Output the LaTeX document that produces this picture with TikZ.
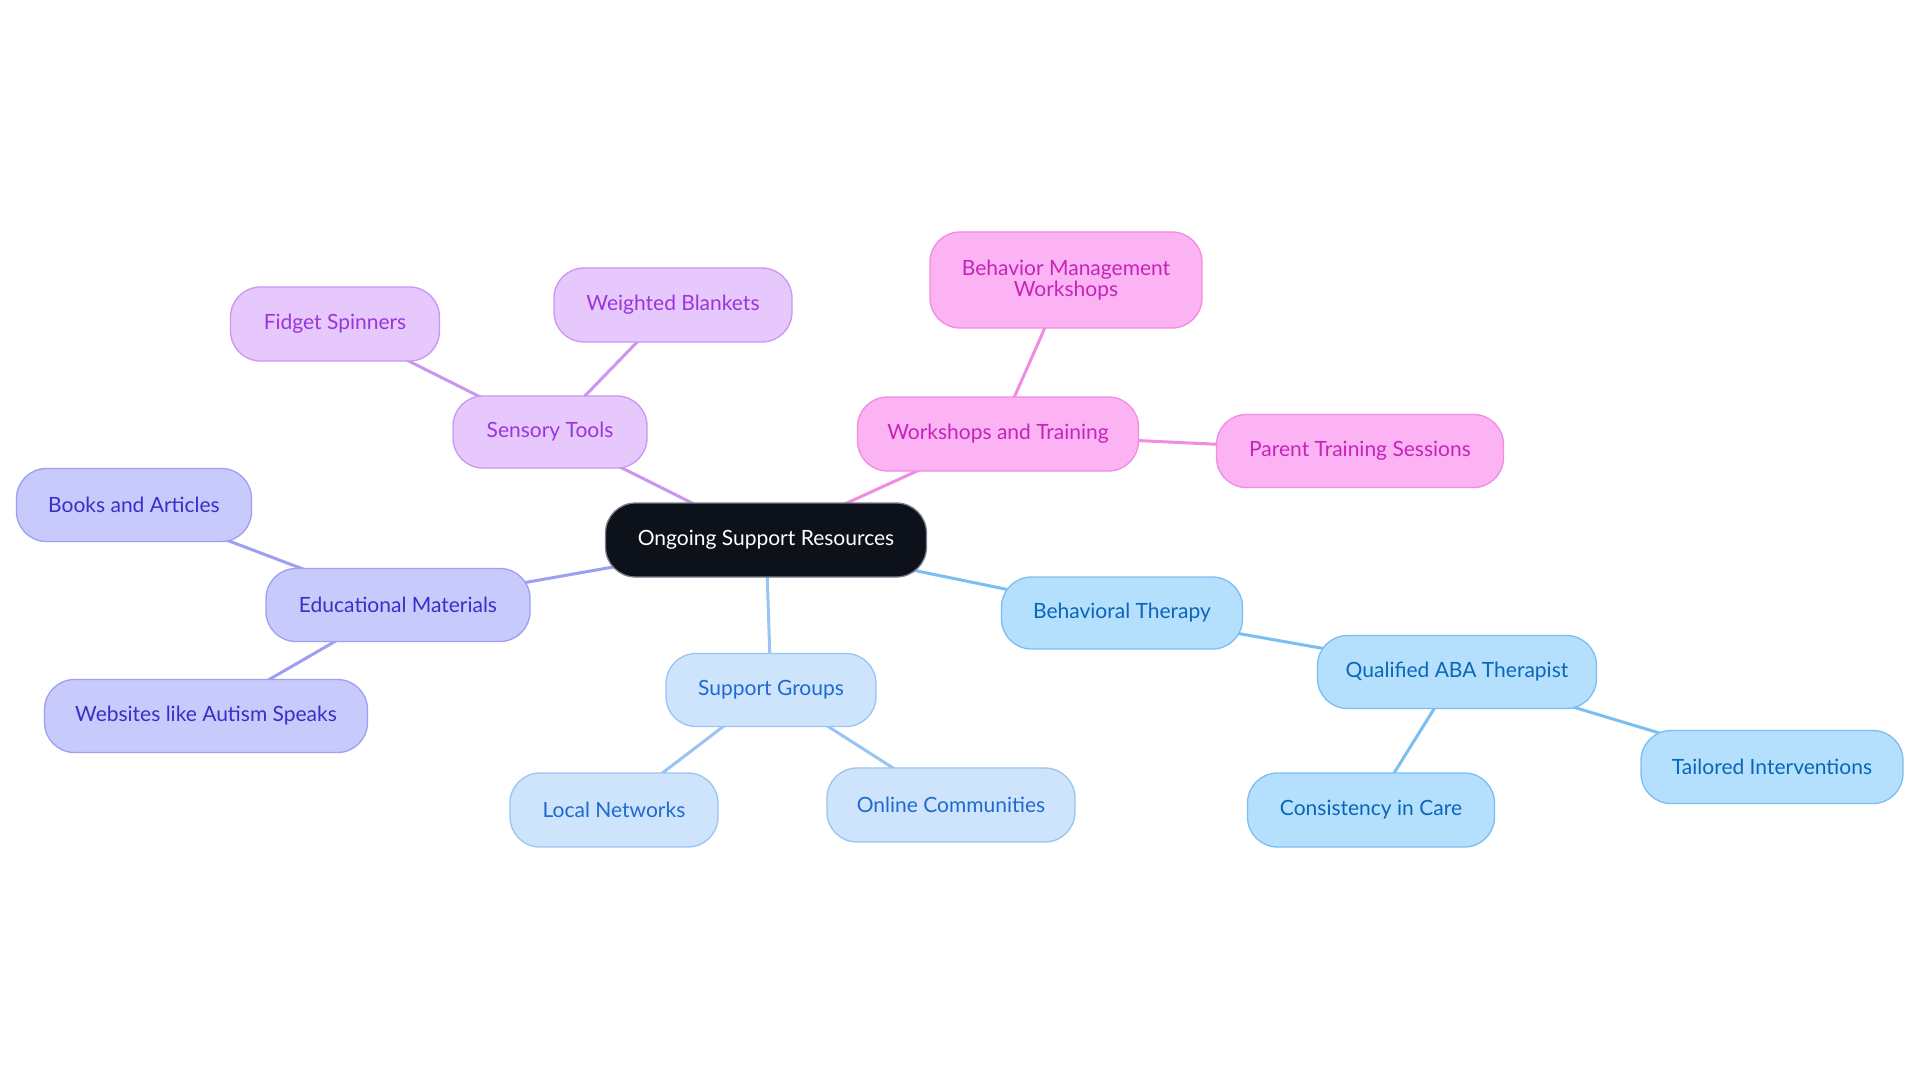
\documentclass[tikz,border=0pt]{standalone}
\usepackage{fontspec}
\setmainfont{Lato}
\usetikzlibrary{backgrounds}
\definecolor{pfill}{HTML}{E7C8FD}\definecolor{pdraw}{HTML}{C996F0}\definecolor{ptext}{HTML}{9A35DB}
\definecolor{kfill}{HTML}{FCB3F3}\definecolor{kdraw}{HTML}{F08CE2}\definecolor{ktext}{HTML}{C523BB}
\definecolor{ifill}{HTML}{C8CAFC}\definecolor{idraw}{HTML}{9C9FF2}\definecolor{itext}{HTML}{3530C9}
\definecolor{lfill}{HTML}{CEE3FC}\definecolor{ldraw}{HTML}{9AC4F2}\definecolor{ltext}{HTML}{1F6AD0}
\definecolor{sfill}{HTML}{B4DFFD}\definecolor{sdraw}{HTML}{7BBFF2}\definecolor{stext}{HTML}{0A66B8}
\definecolor{cfill}{HTML}{0D121A}\definecolor{cdraw}{HTML}{7A8090}
\tikzset{
  mm/.style={rounded corners=30pt, line width=1.3pt, inner sep=0pt, align=center,
    font=\fontsize{21}{21}\selectfont, minimum height=73pt},
  rootnode/.style={mm, fill=cfill, draw=cdraw, text=white},
  purp/.style={mm, fill=pfill, draw=pdraw, text=ptext},
  pink/.style={mm, fill=kfill, draw=kdraw, text=ktext},
  indi/.style={mm, fill=ifill, draw=idraw, text=itext},
  lblu/.style={mm, fill=lfill, draw=ldraw, text=ltext},
  sblu/.style={mm, fill=sfill, draw=sdraw, text=stext},
  edge/.style={line width=3pt}
}
\begin{document}
\begin{tikzpicture}[x=1pt,y=-1pt]
\useasboundingbox (0,0) rectangle (1920,1083);
\node[rootnode, minimum width=321pt, minimum height=74pt] (c) at (766,540) {Ongoing Support Resources};
\node[purp, minimum width=194pt, minimum height=72pt] (st) at (550,432) {Sensory Tools};
\node[purp, minimum width=209pt, minimum height=74pt] (fs) at (335,324) {Fidget Spinners};
\node[purp, minimum width=238pt, minimum height=74pt] (wb) at (673,305) {Weighted Blankets};
\node[pink, minimum width=281pt, minimum height=74pt] (wt) at (998,434) {Workshops and Training};
\node[pink, minimum width=272pt, minimum height=96pt] (bm) at (1066,280) {Behavior Management\\Workshops};
\node[pink, minimum width=287pt] (pt) at (1360,451) {Parent Training Sessions};
\node[indi, minimum width=264pt] (em) at (398,605) {Educational Materials};
\node[indi, minimum width=235pt] (ba) at (134,505) {Books and Articles};
\node[indi, minimum width=323pt] (ws) at (206,716) {Websites like Autism Speaks};
\node[lblu, minimum width=210pt] (sg) at (771,690) {Support Groups};
\node[lblu, minimum width=208pt, minimum height=74pt] (ln) at (614,810) {Local Networks};
\node[lblu, minimum width=248pt, minimum height=74pt] (oc) at (951,805) {Online Communities};
\node[sblu, minimum width=241pt, minimum height=72pt] (bt) at (1122,613) {Behavioral Therapy};
\node[sblu, minimum width=279pt] (qa) at (1457,672) {Qualified ABA Therapist};
\node[sblu, minimum width=247pt, minimum height=74pt] (cc) at (1371,810) {Consistency in Care};
\node[sblu, minimum width=262pt] (ti) at (1772,767) {Tailored Interventions};
\begin{scope}[on background layer]
\fill[white] (0,0) rectangle (1920,1083);
\draw[edge, draw=pdraw] (c.center) -- (st.center);
\draw[edge, draw=pdraw] (st.center) -- (fs.center);
\draw[edge, draw=pdraw] (st.center) -- (wb.center);
\draw[edge, draw=kdraw] (c.center) -- (wt.center);
\draw[edge, draw=kdraw] (wt.center) -- (bm.center);
\draw[edge, draw=kdraw] (wt.center) -- (pt.center);
\draw[edge, draw=idraw] (c.center) -- (em.center);
\draw[edge, draw=idraw] (em.center) -- (ba.center);
\draw[edge, draw=idraw] (em.center) -- (ws.center);
\draw[edge, draw=ldraw] (c.center) -- (sg.center);
\draw[edge, draw=ldraw] (sg.center) -- (ln.center);
\draw[edge, draw=ldraw] (sg.center) -- (oc.center);
\draw[edge, draw=sdraw] (c.center) -- (bt.center);
\draw[edge, draw=sdraw] (bt.center) -- (qa.center);
\draw[edge, draw=sdraw] (qa.center) -- (cc.center);
\draw[edge, draw=sdraw] (qa.center) -- (ti.center);
\end{scope}
\end{tikzpicture}
\end{document}
